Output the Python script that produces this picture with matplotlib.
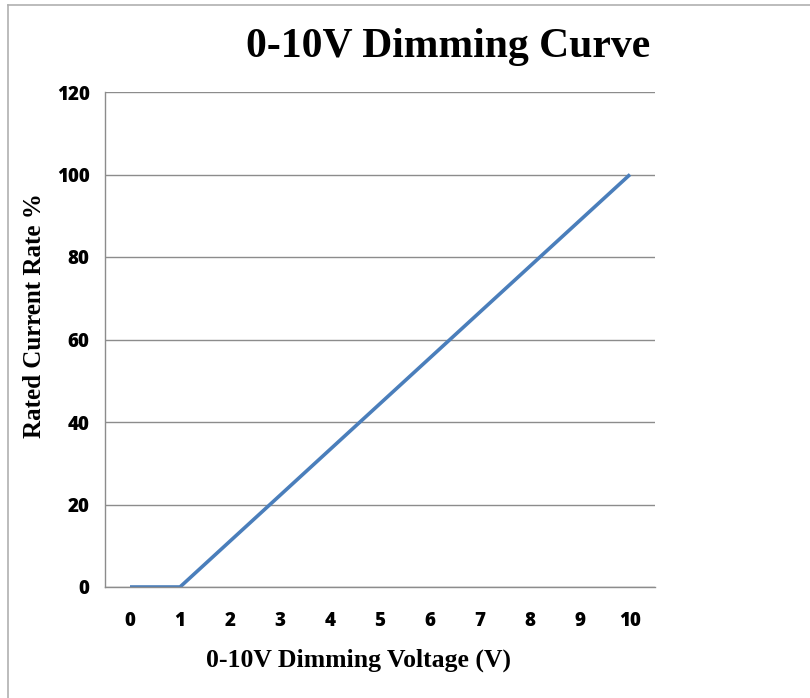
import matplotlib
matplotlib.use("Agg")
import matplotlib.pyplot as plt
from matplotlib.lines import Line2D

# data
voltage = [0, 1, 10]
current_rate = [0, 0, 100]
x_ticks = list(range(0, 11))
y_ticks = [0, 20, 40, 60, 80, 100, 120]

fig = plt.figure(figsize=(8.1, 6.98), dpi=100)
ax = fig.add_axes([105 / 810, 1 - 587 / 698, 550 / 810, 495 / 698])

ax.plot(voltage, current_rate, color="#4a7ebb", linewidth=2.6, solid_capstyle="butt")

ax.set_xlim(-0.5, 10.5)
ax.set_ylim(0, 120)
ax.set_xticks(x_ticks)
ax.set_yticks(y_ticks)
ax.grid(axis="y", color="#8c8c8c", linewidth=1.0)
ax.set_axisbelow(True)
ax.tick_params(length=0, labelsize=13.5)
for lab in ax.get_xticklabels() + ax.get_yticklabels():
    lab.set_fontfamily("Open Sans")
    lab.set_fontweight("heavy")
ax.tick_params(axis="x", pad=17)
ax.tick_params(axis="y", pad=11)

for side in ["top", "right"]:
    ax.spines[side].set_visible(False)
for side in ["left", "bottom"]:
    ax.spines[side].set_color("#8c8c8c")
    ax.spines[side].set_linewidth(1.0)

fig.text(448 / 810, 1 - 47 / 698, "0-10V Dimming Curve", ha="center", va="center",
         fontsize=30, fontweight="bold", family="Liberation Serif")
fig.text(358 / 810, 1 - 660 / 698, "0-10V Dimming Voltage (V)", ha="center", va="center",
         fontsize=18.5, fontweight="bold", family="Liberation Serif")
fig.text(35 / 810, 1 - 316 / 698, "Rated Current Rate %", ha="center", va="center",
         rotation=90, fontsize=18, fontweight="bold", family="Liberation Serif")

# light frame around the picture
fig.add_artist(Line2D([8 / 810, 8 / 810], [0, 1 - 5 / 698], transform=fig.transFigure,
                      color="#b0b0b0", linewidth=1.2))
fig.add_artist(Line2D([8 / 810, 1], [1 - 5 / 698, 1 - 5 / 698], transform=fig.transFigure,
                      color="#b0b0b0", linewidth=1.2))

fig.savefig("out.png", dpi=100)
